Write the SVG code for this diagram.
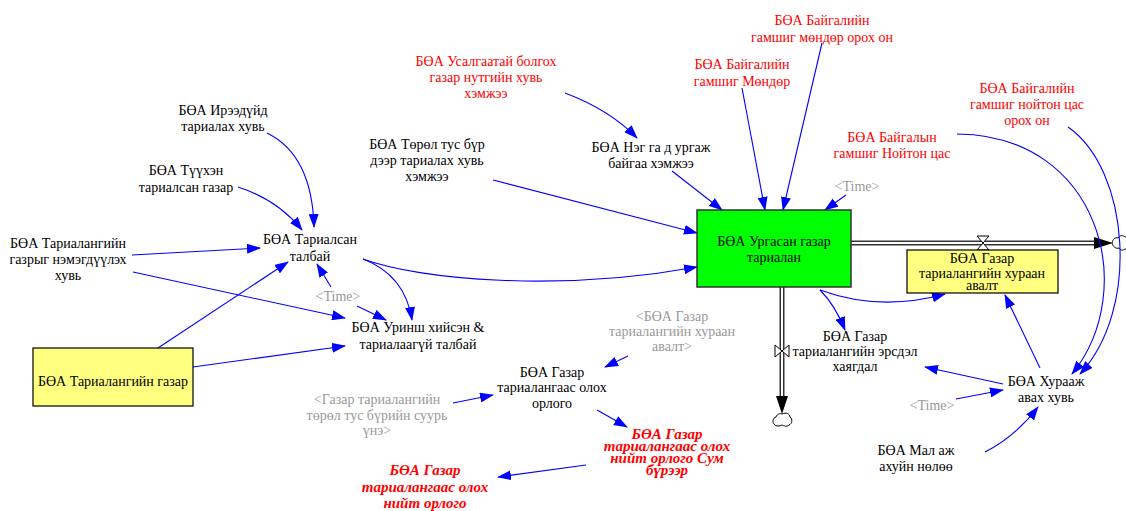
<svg xmlns="http://www.w3.org/2000/svg" width="1126" height="511" viewBox="0 0 1126 511">
<defs>
<marker id="a" markerWidth="14" markerHeight="10" refX="13" refY="5" orient="auto" markerUnits="userSpaceOnUse"><path d="M0,0 L14,5 L0,10 z" fill="#0000ff"/></marker>
</defs>
<style>
text{font-family:'Liberation Serif','DejaVu Serif',serif;font-size:14px;fill:#000;text-anchor:middle}
.r{fill:#ff0000}
.g{fill:#999999}
.rb{fill:#ff0000;font-weight:bold;font-style:italic;font-size:15px}
.c{fill:none;stroke:#0000ff;stroke-width:1.1;marker-end:url(#a)}
.pipeo{fill:none;stroke:#333;stroke-width:5}
.pipei{fill:none;stroke:#fff;stroke-width:2}
.valve{fill:#fff;stroke:#000;stroke-width:1}
.cloud{fill:#fff;stroke:#000;stroke-width:1}
.yb{fill:#ffff80;stroke:#000;stroke-width:1.2}
.gb{fill:#00ff00;stroke:#333;stroke-width:1.5}
</style>

<g id="flows">
<line class="pipeo" x1="851" y1="243" x2="1096" y2="243"/>
<line class="pipei" x1="851" y1="243" x2="1096" y2="243"/>
<polygon points="1094,237 1113,243 1094,249" fill="#000"/>
<polygon class="valve" points="977,236 989,236 983,243"/>
<polygon class="valve" points="977,250 989,250 983,243"/>
<path class="cloud" d="M1112,243 c1,-4 3,-6 6,-5 c2,-3 5,-3 7,-1 l2,0 l0,12 l-2,0 c-2,2 -5,1 -6,-1 c-3,1 -6,-1 -7,-5 z"/>
<line class="pipeo" x1="782" y1="287" x2="782" y2="397"/>
<line class="pipei" x1="782" y1="287" x2="782" y2="397"/>
<polygon points="776,396 782,414 788,396" fill="#000"/>
<polygon class="valve" points="775,345 775,357 782,351"/>
<polygon class="valve" points="789,345 789,357 782,351"/>
<path class="cloud" d="M782,414 c4,-2 8,0 8,3 c3,2 2,7 -1,8 c-2,2 -5,1 -7,0 c-2,1 -6,2 -8,-1 c-2,-2 -1,-6 2,-7 c1,-3 4,-4 6,-3 z"/>
</g>

<g id="connectors">
<path class="c" d="M267,133 Q312,155 314,227"/>
<path class="c" d="M238,187 Q278,200 302,230"/>
<path class="c" d="M132,255 L260,248"/>
<path class="c" d="M133,272 L345,318"/>
<path class="c" d="M158,348 L288,262"/>
<path class="c" d="M193,367 L345,346"/>
<path class="c" d="M331,287 L317,264"/>
<path class="c" d="M357,306 L386,320"/>
<path class="c" d="M363,259 Q405,275 412,320"/>
<path class="c" d="M363,259 C420,280 560,292 697,267"/>
<path class="c" d="M493,180 Q600,208 697,233"/>
<path class="c" d="M565,93 Q610,110 637,138"/>
<path class="c" d="M672,171 L722,210"/>
<path class="c" d="M742,88 L765,210"/>
<path class="c" d="M822,43 L783,210"/>
<path class="c" d="M846,195 L825,210"/>
<path class="c" d="M957,134 C1100,135 1140,290 1072,374"/>
<path class="c" d="M1068,127 C1130,170 1140,310 1080,374"/>
<path class="c" d="M820,290 Q880,312 945,294"/>
<path class="c" d="M820,290 Q835,305 845,330"/>
<path class="c" d="M1040,368 L1005,295"/>
<path class="c" d="M1003,384 L925,367"/>
<path class="c" d="M956,399 L1003,390"/>
<path class="c" d="M985,452 Q1015,437 1038,407"/>
<path class="c" d="M628,356 L605,367"/>
<path class="c" d="M597,410 L627,427"/>
<path class="c" d="M586,465 L498,477"/>
<path class="c" d="M453,403 L493,395"/>
</g>

<g id="n_ireeduid"><text x="223" y="115">БӨА Ирээдүйд</text><text x="223" y="131">тариалах хувь</text></g>
<g id="n_tuuhen"><text x="186" y="175">БӨА Түүхэн</text><text x="186" y="192">тариалсан газар</text></g>
<g id="n_nemegduuleh"><text x="68" y="248">БӨА Тариалангийн</text><text x="68" y="264">газрыг нэмэгдүүлэх</text><text x="68" y="280">хувь</text></g>
<g id="n_tarialsan"><text x="310" y="244">БӨА Тариалсан</text><text x="310" y="261">талбай</text></g>
<g id="n_time1"><text class="g" x="338" y="301">&lt;Time&gt;</text></g>
<g id="n_urinsh"><text x="418" y="332">БӨА Уринш хийсэн &amp;</text><text x="418" y="349">тариалаагүй талбай</text></g>
<g id="n_tarialangiin_gazar"><rect class="yb" x="33" y="348" width="160" height="58"/><text x="113" y="386">БӨА Тариалангийн газар</text></g>
<g id="n_suuri_une"><text class="g" x="377" y="404">&lt;Газар тариалангийн</text><text class="g" x="377" y="420">төрөл тус бүрийн суурь</text><text class="g" x="377" y="435">үнэ&gt;</text></g>
<g id="n_orlogo"><text x="552" y="377">БӨА Газар</text><text x="552" y="392">тариалангаас олох</text><text x="552" y="408">орлого</text></g>
<g id="n_huraan_shadow"><text class="g" x="672" y="321">&lt;БӨА Газар</text><text class="g" x="672" y="336">тариалангийн хураан</text><text class="g" x="672" y="351">авалт&gt;</text></g>
<g id="n_sum"><text class="rb" x="667" y="439">БӨА Газар</text><text class="rb" x="667" y="451">тариалангаас олох</text><text class="rb" x="667" y="463">нийт орлого Сум</text><text class="rb" x="667" y="475">бүрээр</text></g>
<g id="n_niit"><text class="rb" x="425" y="475">БӨА Газар</text><text class="rb" x="425" y="492">тариалангаас олох</text><text class="rb" x="425" y="508">нийт орлого</text></g>
<g id="n_usalgaatai"><text class="r" x="486" y="66">БӨА Усалгаатай болгох</text><text class="r" x="486" y="82">газар нутгийн хувь</text><text class="r" x="486" y="98">хэмжээ</text></g>
<g id="n_turul"><text x="427" y="149">БӨА Төрөл тус бүр</text><text x="427" y="165">дээр тариалах хувь</text><text x="427" y="181">хэмжээ</text></g>
<g id="n_neg_ga"><text x="651" y="152">БӨА Нэг га д ургаж</text><text x="651" y="168">байгаа хэмжээ</text></g>
<g id="n_mondor"><text class="r" x="742" y="69">БӨА Байгалийн</text><text class="r" x="742" y="86">гамшиг Мөндөр</text></g>
<g id="n_mondor_on"><text class="r" x="822" y="25">БӨА Байгалийн</text><text class="r" x="822" y="42">гамшиг мөндөр орох он</text></g>
<g id="n_time2"><text class="g" x="857" y="191">&lt;Time&gt;</text></g>
<g id="n_noiton"><text class="r" x="892" y="142">БӨА Байгалын</text><text class="r" x="892" y="158">гамшиг Нойтон цас</text></g>
<g id="n_noiton_on"><text class="r" x="1027" y="93">БӨА Байгалийн</text><text class="r" x="1027" y="109">гамшиг нойтон цас</text><text class="r" x="1027" y="125">орох он</text></g>
<g id="n_urgasan"><rect class="gb" x="697" y="210" width="154" height="77"/><text x="774" y="246">БӨА Ургасан газар</text><text x="774" y="262">тариалан</text></g>
<g id="n_huraan"><rect class="yb" x="907" y="250" width="151" height="43"/><text x="982" y="263">БӨА Газар</text><text x="982" y="278">тариалангийн хураан</text><text x="982" y="290">авалт</text></g>
<g id="n_ersdel"><text x="855" y="341">БӨА Газар</text><text x="855" y="356">тариалангийн эрсдэл</text><text x="855" y="371">хаягдал</text></g>
<g id="n_huraaj"><text x="1046" y="386">БӨА Хурааж</text><text x="1046" y="402">авах хувь</text></g>
<g id="n_time3"><text class="g" x="932" y="410">&lt;Time&gt;</text></g>
<g id="n_mal"><text x="916" y="455">БӨА Мал аж</text><text x="916" y="471">ахуйн нөлөө</text></g>
</svg>
